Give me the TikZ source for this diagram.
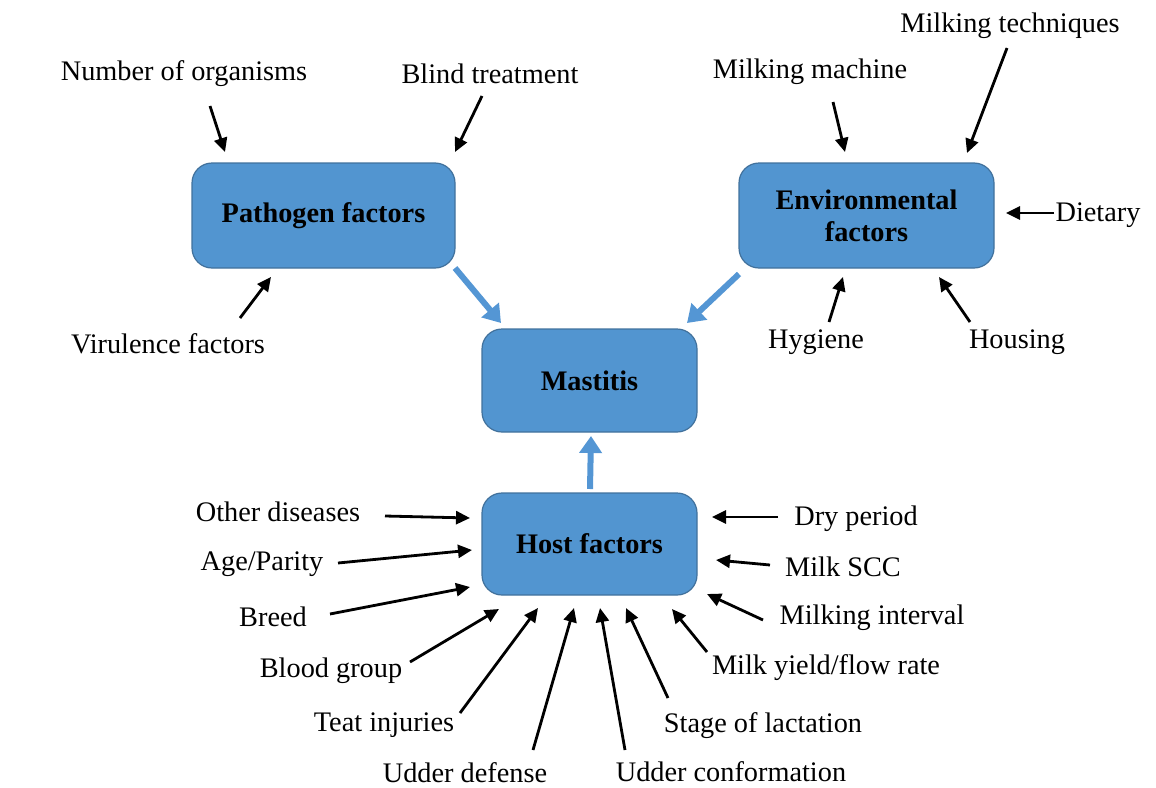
\documentclass[tikz,border=0pt]{standalone}
\usepackage{fontspec}
\setmainfont{Liberation Serif}
\usetikzlibrary{arrows.meta}
\definecolor{boxfill}{RGB}{82,149,208}
\definecolor{boxedge}{RGB}{65,113,156}
\definecolor{bluearr}{RGB}{84,150,212}
\tikzset{
  factor/.style={draw=boxedge, line width=1.2pt, fill=boxfill, rounded corners=20pt,
    font=\fontsize{28.3}{32}\selectfont\bfseries, align=center, inner sep=0pt},
  lab/.style={font=\fontsize{28.3}{32}\selectfont, inner sep=0pt, anchor=center},
  arr/.style={line width=2.8pt, -{Triangle[length=14pt,width=13pt]}},
  bigarr/.style={line width=6pt, draw=bluearr, -{Triangle[length=17pt,width=22pt]}, shorten <=0pt}
}
\begin{document}
\begin{tikzpicture}[x=1pt,y=-1pt]
\useasboundingbox (0,0) rectangle (1156,787);
% boxes
\node[factor, minimum width=263pt, minimum height=105pt] (path) at (323.5,215.5) {Pathogen factors};
\node[factor, minimum width=255pt, minimum height=105pt] (env) at (866.5,215.5) {Environmental\\factors};
\node[factor, minimum width=215pt, minimum height=103pt] (mast) at (589.5,380.5) {Mastitis};
\node[factor, minimum width=215pt, minimum height=102pt] (host) at (589.5,544) {Host factors};
% labels
\node[lab] (l1) at (184,74) {Number of organisms};
\node[lab] (l2) at (490,74) {Blind treatment};
\node[lab] (l3) at (810,72) {Milking machine};
\node[lab] (l4) at (1010,26) {Milking techniques};
\node[lab] (l5) at (1098,215) {Dietary};
\node[lab] (l6) at (168,344) {Virulence factors};
\node[lab] (l7) at (816,342) {Hygiene};
\node[lab] (l8) at (1017,342) {Housing};
\node[lab] (h1) at (278,512) {Other diseases};
\node[lab] (h2) at (262,564) {Age/Parity};
\node[lab] (h3) at (273,617) {Breed};
\node[lab] (h4) at (331,671) {Blood group};
\node[lab] (h5) at (384,725) {Teat injuries};
\node[lab] (h6) at (465,773) {Udder defense};
\node[lab] (h7) at (731,772) {Udder conformation};
\node[lab] (h8) at (763,726) {Stage of lactation};
\node[lab] (h9) at (826,668) {Milk yield/flow rate};
\node[lab] (h10) at (872,618) {Milking interval};
\node[lab] (h11) at (843,567) {Milk SCC};
\node[lab] (h12) at (856,519) {Dry period};
% arrow end points
\coordinate (s1) at (210,106); \coordinate (e1) at (225,152);
\coordinate (s2) at (482,96);  \coordinate (e2) at (455,152);
\coordinate (s3) at (833,102); \coordinate (e3) at (845,152);
\coordinate (s4) at (1007,48); \coordinate (e4) at (967,153);
\coordinate (s5) at (1054,213); \coordinate (e5) at (1006,213);
\coordinate (s6) at (240,318); \coordinate (e6) at (271,277);
\coordinate (s7) at (829,322); \coordinate (e7) at (843,277);
\coordinate (s8) at (970,322); \coordinate (e8) at (939,277);
\coordinate (t1) at (385,516); \coordinate (f1) at (470,518);
\coordinate (t2) at (338,563); \coordinate (f2) at (472,550);
\coordinate (t3) at (330,614); \coordinate (f3) at (470,587);
\coordinate (t4) at (410,662); \coordinate (f4) at (499,609);
\coordinate (t5) at (460,713); \coordinate (f5) at (538,608);
\coordinate (t6) at (533,750); \coordinate (f6) at (574,608);
\coordinate (t7) at (625,750); \coordinate (f7) at (600,608);
\coordinate (t8) at (668,698); \coordinate (f8) at (626,608);
\coordinate (t9) at (707,652); \coordinate (f9) at (672,609);
\coordinate (t10) at (763,620); \coordinate (f10) at (707,594);
\coordinate (t11) at (770,565); \coordinate (f11) at (716,560);
\coordinate (t12) at (778,517); \coordinate (f12) at (712,517);
\foreach \i in {1,...,8} { \draw[arr] (s\i) -- (e\i); }
\foreach \i in {1,...,12} { \draw[arr] (t\i) -- (f\i); }
% big blue arrows
\coordinate (b1s) at (455,268); \coordinate (b1e) at (501,323);
\coordinate (b2s) at (739,274); \coordinate (b2e) at (687,323);
\coordinate (b3s) at (590,489); \coordinate (b3e) at (591,436);
\draw[bigarr] (b1s) -- (b1e);
\draw[bigarr] (b2s) -- (b2e);
\draw[bigarr] (b3s) -- (b3e);
\end{tikzpicture}
\end{document}
